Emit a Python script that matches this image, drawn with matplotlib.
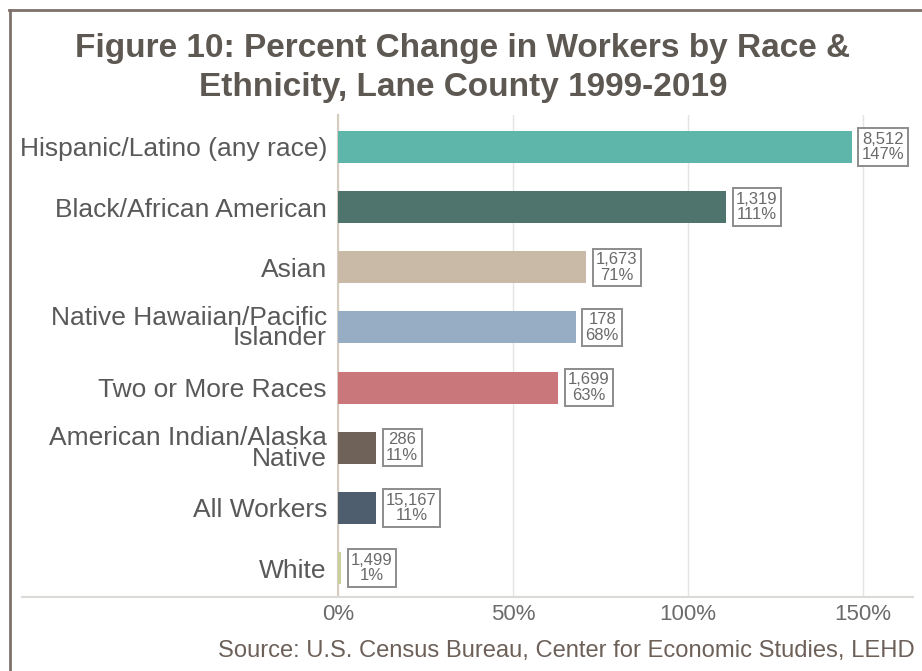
import matplotlib
matplotlib.use("Agg")
import matplotlib.pyplot as plt
from matplotlib.lines import Line2D

# Data
categories = [
    "Hispanic/Latino (any race)",
    "Black/African American",
    "Asian",
    "Native Hawaiian/Pacific\nIslander",
    "Two or More Races",
    "American Indian/Alaska\nNative",
    "All Workers",
    "White",
]
pct_change = [147, 111, 71, 68, 63, 11, 11, 1]
worker_change = ["8,512", "1,319", "1,673", "178", "1,699", "286", "15,167", "1,499"]
bar_colors = ["#5db6a9", "#4f746d", "#c9b9a7", "#97adc4", "#c9777a",
              "#6f6259", "#4f5e6e", "#c9d19a"]
x_ticks = [0, 50, 100, 150]
x_tick_labels = ["0%", "50%", "100%", "150%"]

plt.rcParams["font.family"] = ["Liberation Sans", "DejaVu Sans"]

W, H = 922, 671
fig = plt.figure(figsize=(W / 100, H / 100), dpi=100)
fig.patch.set_facecolor("white")

ax_left, ax_right, ax_top, ax_bottom = 338, 915, 115, 597
ax = fig.add_axes([ax_left / W, 1 - ax_bottom / H,
                   (ax_right - ax_left) / W, (ax_bottom - ax_top) / H])

ypos = list(range(len(categories)))
ax.barh(ypos, pct_change, height=0.53, color=bar_colors, zorder=3)

ax.set_xlim(0, 165)
ax.set_ylim(len(categories) - 0.52, -0.53)

ax.set_yticks(ypos)
ax.set_yticklabels(categories, fontsize=19, color="#595959", linespacing=0.82)
ax.set_xticks(x_ticks)
ax.set_xticklabels(x_tick_labels, fontsize=16, color="#6b6b6b")
ax.tick_params(axis="both", length=0)
ax.tick_params(axis="y", pad=8)
ax.tick_params(axis="x", pad=5)

ax.grid(axis="x", color="#e4e4e4", linewidth=1, zorder=0)
for side in ["top", "right", "bottom"]:
    ax.spines[side].set_visible(False)
ax.spines["left"].set_color("#d6ccc0")
ax.spines["left"].set_linewidth(1.5)

# Value boxes: worker change and percent change
for y, v, n in zip(ypos, pct_change, worker_change):
    ax.annotate(f"{n}\n{v}%", xy=(v, y), xytext=(7, 0),
                textcoords="offset points", ha="left", va="center",
                multialignment="center", fontsize=12, color="#6a6a6a",
                linespacing=1.05,
                bbox=dict(boxstyle="square,pad=0.2", fc="white",
                          ec="#8c8c8c", lw=1.4), zorder=4)

# Horizontal baseline running under the labels
fig.add_artist(Line2D([22 / W, 913 / W], [1 - ax_bottom / H] * 2,
                      color="#dcdad6", lw=1.5))

# Outer frame (top and left edges)
fig.add_artist(Line2D([9 / W, 1], [1 - 10 / H] * 2, color="#7d726b", lw=2))
fig.add_artist(Line2D([10 / W] * 2, [1 - 10 / H, 0], color="#7d726b", lw=2))

fig.text(463 / W, 1 - 68 / H,
         "Figure 10: Percent Change in Workers by Race &\nEthnicity, Lane County 1999-2019",
         ha="center", va="center", fontsize=24, fontweight="bold",
         color="#5e5853", linespacing=1.3)

fig.text(915 / W, 1 - 651 / H,
         "Source: U.S. Census Bureau, Center for Economic Studies, LEHD",
         ha="right", va="center", fontsize=17.1, color="#6d6058")

fig.savefig("out.png", dpi=100, facecolor="white")
